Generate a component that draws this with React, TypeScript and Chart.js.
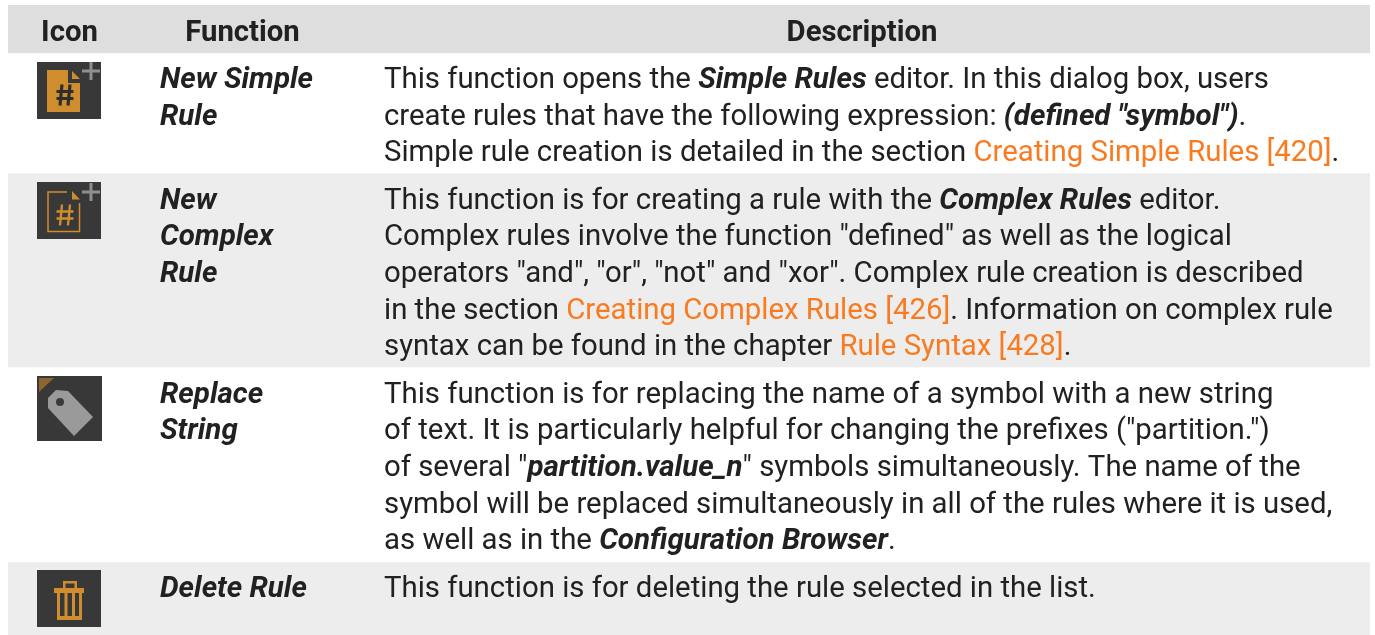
import React, { useEffect, useRef } from "react";
import { Chart, registerables } from "chart.js";

Chart.register(...registerables);

type Run = [string, "n" | "b" | "o"];

const bandNames = ["Header", "New Simple Rule", "New Complex Rule", "Replace String", "Delete Rule"];
const bandHeights = [48, 120, 194, 195, 73];
const bandColors = ["#dedede", "#ffffff", "#ededed", "#ffffff", "#ededed"];

const headerLabels = ["Icon", "Function", "Description"];
const headerCentres = [69.5, 242.5, 862];
const headerBaseline = 36;

const functionLines: [string, number][] = [
  ["New Simple", 83], ["Rule", 120],
  ["New", 204], ["Complex", 240], ["Rule", 277],
  ["Replace", 398], ["String", 434],
  ["Delete Rule", 592],
];

const descriptionBaselines = [83, 120, 156, 204, 240, 277, 314, 350, 398, 434, 471, 508, 544, 592];
const descriptionLines: Run[][] = [
  [["This function opens the ", "n"], ["Simple Rules", "b"], [" editor. In this dialog box, users", "n"]],
  [["create rules that have the following expression: ", "n"], ['(defined "symbol")', "b"], [".", "n"]],
  [["Simple rule creation is detailed in the section ", "n"], ["Creating Simple Rules [420]", "o"], [".", "n"]],
  [["This function is for creating a rule with the ", "n"], ["Complex Rules", "b"], [" editor.", "n"]],
  [['Complex rules involve the function "defined" as well as the logical', "n"]],
  [['operators "and", "or", "not" and "xor". Complex rule creation is described', "n"]],
  [["in the section ", "n"], ["Creating Complex Rules [426]", "o"], [". Information on complex rule", "n"]],
  [["syntax can be found in the chapter ", "n"], ["Rule Syntax [428]", "o"], [".", "n"]],
  [["This function is for replacing the name of a symbol with a new string", "n"]],
  [['of text. It is particularly helpful for changing the prefixes ("partition.")', "n"]],
  [['of several "', "n"], ["partition.value_n", "b"], ['" symbols simultaneously. The name of the', "n"]],
  [["symbol will be replaced simultaneously in all of the rules where it is used,", "n"]],
  [["as well as in the ", "n"], ["Configuration Browser", "b"], [".", "n"]],
  [["This function is for deleting the rule selected in the list.", "n"]],
];

const INK = "#212121";
const ORANGE = "#f97a1f";
const DARK = "#383838";
const AMBER = "#cf8d2e";
const GREY = "#8f8f8f";

const FONT_NORMAL = "400 29.35px Roboto";
const FONT_EMPH = "italic 700 29.5px Roboto";
const FONT_HEAD = "700 29.3px Roboto";

function plus(c: CanvasRenderingContext2D, x: number, y: number) {
  c.fillStyle = GREY;
  c.fillRect(x - 9, y - 1.5, 18, 3);
  c.fillRect(x - 1.5, y - 9, 3, 18);
}

function poly(c: CanvasRenderingContext2D, pts: number[][], fill: string) {
  c.fillStyle = fill;
  c.beginPath();
  pts.forEach(([x, y], i) => (i ? c.lineTo(x, y) : c.moveTo(x, y)));
  c.closePath();
  c.fill();
}

function hash(c: CanvasRenderingContext2D, cx: number, cy: number, col: string, w: number) {
  c.strokeStyle = col;
  c.lineWidth = w;
  c.beginPath();
  c.moveTo(cx - 3, cy - 10.5); c.lineTo(cx - 5, cy + 10.5);
  c.moveTo(cx + 5, cy - 10.5); c.lineTo(cx + 3, cy + 10.5);
  c.moveTo(cx - 8.5, cy - 3.5); c.lineTo(cx + 8.5, cy - 3.5);
  c.moveTo(cx - 8.5, cy + 3.5); c.lineTo(cx + 8.5, cy + 3.5);
  c.stroke();
}

function drawIcons(c: CanvasRenderingContext2D) {
  c.save();
  // New Simple Rule
  c.fillStyle = DARK; c.fillRect(37, 62, 64, 57);
  poly(c, [[47, 70], [68, 70], [68, 83], [80, 83], [80, 112], [47, 112]], AMBER);
  poly(c, [[72, 71], [80, 79], [72, 79]], AMBER);
  hash(c, 65, 95, "#2e2e2e", 3.2);
  plus(c, 91, 71);
  // New Complex Rule
  c.fillStyle = DARK; c.fillRect(37, 182, 64, 57);
  c.strokeStyle = AMBER; c.lineWidth = 1.5;
  c.beginPath();
  c.moveTo(67, 192); c.lineTo(48, 192); c.lineTo(48, 231.5); c.lineTo(79.5, 231.5); c.lineTo(79.5, 203);
  c.stroke();
  poly(c, [[72, 191], [80, 199.5], [72, 199.5]], AMBER);
  hash(c, 65, 215, AMBER, 2.4);
  plus(c, 91, 192);
  // Replace String
  c.fillStyle = DARK; c.fillRect(37, 376, 65, 65);
  poly(c, [[39, 378], [54, 378], [39, 392]], "#8f642e");
  poly(c, [[48, 398], [56, 390], [68, 391], [93, 417], [74, 436], [48, 408]], "#9a9a9a");
  c.fillStyle = "#3a3a3a"; c.beginPath(); c.arc(60, 402, 4, 0, Math.PI * 2); c.fill();
  // Delete Rule
  c.fillStyle = DARK; c.fillRect(37, 570, 64, 57);
  c.fillStyle = AMBER;
  c.fillRect(54, 588, 30, 5);
  c.fillRect(63, 581, 14, 2.5); c.fillRect(63, 581, 2.5, 8); c.fillRect(74.5, 581, 2.5, 8);
  c.fillRect(57, 593, 25, 27);
  c.fillStyle = DARK;
  c.fillRect(60, 593, 4.5, 23); c.fillRect(67.5, 593, 4.5, 23); c.fillRect(75, 593, 4, 23);
  c.restore();
}

const tablePlugin = {
  id: "tableContent",
  afterDatasetsDraw(chart: Chart) {
    const c = chart.ctx;
    const y = chart.scales.y;
    c.save();
    c.textBaseline = "alphabetic";
    c.fillStyle = INK;
    c.textAlign = "center";
    c.font = FONT_HEAD;
    headerLabels.forEach((t, i) => c.fillText(t, headerCentres[i], y.getPixelForValue(headerBaseline)));
    c.textAlign = "left";
    c.font = FONT_EMPH;
    functionLines.forEach(([t, b]) => c.fillText(t, 160, y.getPixelForValue(b)));
    descriptionLines.forEach((runs, i) => {
      let x = 384;
      runs.forEach(([t, s]) => {
        c.font = s === "b" ? FONT_EMPH : FONT_NORMAL;
        c.fillStyle = s === "o" ? ORANGE : INK;
        c.fillText(t, x, y.getPixelForValue(descriptionBaselines[i]));
        x += c.measureText(t).width;
      });
    });
    c.restore();
    drawIcons(c);
  },
};

export default function App() {
  const ref = useRef<HTMLCanvasElement | null>(null);
  useEffect(() => {
    document.body.style.margin = "0";
    const chart = new Chart(ref.current!, {
      type: "bar",
      data: {
        labels: ["table"],
        datasets: bandNames.map((name, i) => ({
          label: name,
          data: [bandHeights[i]],
          backgroundColor: bandColors[i],
          borderWidth: 0,
          categoryPercentage: 1,
          barPercentage: 1,
        })),
      },
      options: {
        animation: false,
        responsive: false,
        layout: { padding: { left: 8, right: 5, top: 5, bottom: 0 } },
        plugins: { legend: { display: false }, tooltip: { enabled: false } },
        scales: {
          x: { display: false, stacked: true },
          y: {
            display: false,
            stacked: true,
            reverse: true,
            min: 0,
            max: bandHeights.reduce((a, b) => a + b, 0),
          },
        },
      },
      plugins: [tablePlugin],
    });
    return () => chart.destroy();
  }, []);
  return (
    <canvas
      ref={ref}
      width={1375}
      height={635}
      style={{ display: "block", width: 1375, height: 635 }}
    />
  );
}
